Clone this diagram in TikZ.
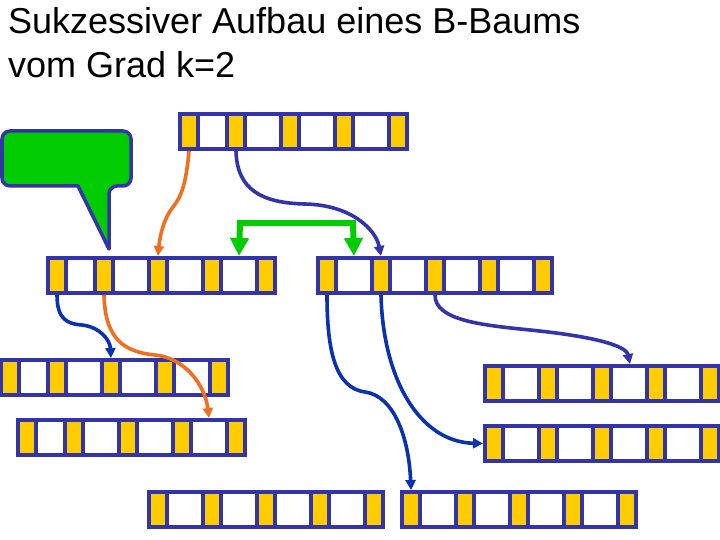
\documentclass[tikz,border=0pt]{standalone}
\usepackage{fontspec}
\setmainfont{Liberation Sans}
\usetikzlibrary{arrows.meta}
\definecolor{bblue}{RGB}{51,51,170}
\definecolor{dblue}{RGB}{10,50,175}
\definecolor{byellow}{RGB}{255,204,0}
\definecolor{bgreen}{RGB}{0,204,0}
\definecolor{borange}{RGB}{240,112,32}
\tikzset{
  bnodebox/.style={fill=bblue, draw=none, inner sep=0pt, outer sep=0pt, minimum height=39pt},
  link/.style={line width=3.6pt, -{Triangle[length=10pt,width=10pt]}},
  bluelink/.style={link, draw=bblue, bblue},
  darklink/.style={link, draw=dblue, dblue},
  orangelink/.style={link, draw=borange, borange},
  greenlink/.style={draw=bgreen, line width=6pt, -{Triangle[length=18pt,width=18pt]}, bgreen},
  callout/.style={draw=bblue, line width=3.5pt, fill=bgreen, rounded corners=8pt, line join=round},
  titletext/.style={font=\fontsize{36}{44}\selectfont, inner sep=0pt, anchor=base west}
}
% #1 name, #2 left x, #3 top y, #4 narrowing of first white cell
\newcommand{\btreenode}[4]{%
  \node[bnodebox, anchor=north west, minimum width={238-#4}] (#1) at (#2,#3) {};
  \foreach \i in {0,...,4}{%
    \pgfmathsetmacro{\xs}{#2+4+\i*54-min(\i,1)*#4}%
    \fill[byellow] (\xs,#3+4) rectangle ++(14,31);
    \coordinate (#1-y\i-t) at (\xs+7,#3);
    \coordinate (#1-y\i-b) at (\xs+7,#3+39);
  }
  \foreach \i in {0,...,3}{%
    \pgfmathsetmacro{\xs}{#2+4+\i*54-min(\i,1)*#4+18}%
    \pgfmathsetmacro{\ww}{32-(1-min(\i,1))*#4}%
    \fill[white] (\xs,#3+4) rectangle ++(\ww,31);
    \coordinate (#1-w\i-t) at (\xs+\ww/2,#3);
  }
}
\begin{document}
\begin{tikzpicture}[x=1pt,y=-1pt]
\useasboundingbox (0,0) rectangle (720,540);
\fill[white] (0,0) rectangle (720,540);

% title
\node[titletext] (t1) at (8,33.5) {Sukzessiver Aufbau eines B-Baums};
\node[titletext] (t2) at (8,77.5) {vom Grad k=2};

% nodes
\btreenode{root}{178}{112}{7}
\btreenode{ml}{46}{256}{7}
\btreenode{mr}{316}{256}{0}
\btreenode{na}{-1}{358}{7}
\btreenode{nb}{16}{418}{7}
\btreenode{nc}{483}{364}{0}
\btreenode{nd}{483}{424}{0}
\btreenode{ne}{147}{490}{0}
\btreenode{nf}{400}{490}{0}

% callout
\draw[callout] (2,144) -- (2,131) -- (131,131) -- (131,186) -- (109,186)
   [sharp corners] -- (109,249) -- (78,186) [rounded corners=8pt] -- (2,186) -- (2,144);

% connectors
\draw[orangelink] (root-y0-b) .. controls (186,185) and (181,197) .. (173,207)
   .. controls (164,218) and (160,235) .. (ml-y2-t);
\draw[bluelink] (root-y1-b) .. controls (237,190) and (262,203) .. (305,204)
   .. controls (352,205) and (376,230) .. (mr-y1-t);
\draw[greenlink] (240,223) -- (ml-w3-t);
\draw[greenlink] (353,223) -- (mr-w0-t);
\draw[draw=bgreen, line width=6pt, line cap=rect] (240,223) -- (353,223);

\draw[darklink] (ml-y0-b) .. controls (57,320) and (68,324) .. (82,325)
   .. controls (100,327) and (110,340) .. (na-y2-t);
\draw[orangelink] (ml-y1-b) .. controls (105,340) and (125,352) .. (155,355)
   .. controls (185,358) and (205,385) .. (nb-w3-t);

\draw[darklink] (mr-y0-b) .. controls (327,350) and (335,388) .. (365,392)
   .. controls (395,396) and (409,440) .. (nf-y0-t);
\draw[darklink] (mr-y1-b) .. controls (383,380) and (420,442) .. (nd.west);
\draw[bluelink] (mr-y2-b) .. controls (435,320) and (480,325) .. (530,330)
   .. controls (590,336) and (626,345) .. (630,364);
\end{tikzpicture}
\end{document}
